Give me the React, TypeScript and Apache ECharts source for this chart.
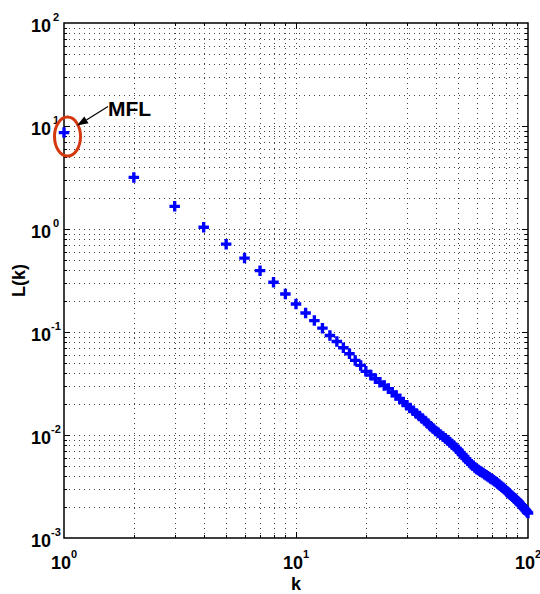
import React, { useEffect, useRef } from "react";
import * as echarts from "echarts";

const FONT = "'Liberation Sans Narrow', 'Arial Narrow', 'Liberation Sans', Arial, sans-serif";

// L(k) for k = 1..100
const lValues = [
  8.63, 3.17, 1.66, 1.04, 0.713, 0.522, 0.394, 0.304, 0.234, 0.187,
  0.153, 0.129, 0.109, 0.0925, 0.0809, 0.0703, 0.0615, 0.053, 0.0474, 0.0415,
  0.0382, 0.0352, 0.0325, 0.0303, 0.0282, 0.026, 0.0242, 0.0224, 0.0209, 0.0195,
  0.0183, 0.0172, 0.0162, 0.0153, 0.0145, 0.01365, 0.0129, 0.01217, 0.01156, 0.01096,
  0.0105, 0.01007, 0.00966, 0.00929, 0.00891, 0.00849, 0.00815, 0.0078, 0.00746, 0.00716,
  0.00679, 0.00647, 0.00618, 0.0059, 0.00562, 0.00541, 0.0052, 0.00503, 0.00484, 0.00468,
  0.00457, 0.00447, 0.00437, 0.00427, 0.00417, 0.00406, 0.00398, 0.00388, 0.00379, 0.00372,
  0.00363, 0.00355, 0.00347, 0.00339, 0.00331, 0.00322, 0.00315, 0.00307, 0.00299, 0.00292,
  0.00284, 0.00277, 0.0027, 0.00263, 0.00257, 0.00251, 0.00244, 0.0024, 0.00234, 0.00229,
  0.00223, 0.00216, 0.00211, 0.00206, 0.002, 0.00195, 0.00189, 0.00185, 0.00179, 0.00175,
];

const xMajor = [1, 10, 100];
const xMinor = [2, 3, 4, 5, 6, 7, 8, 9, 20, 30, 40, 50, 60, 70, 80, 90];
const yMajor = [0.001, 0.01, 0.1, 1, 10, 100];
const yMinor = [
  0.002, 0.003, 0.004, 0.005, 0.006, 0.007, 0.008, 0.009,
  0.02, 0.03, 0.04, 0.05, 0.06, 0.07, 0.08, 0.09,
  0.2, 0.3, 0.4, 0.5, 0.6, 0.7, 0.8, 0.9,
  2, 3, 4, 5, 6, 7, 8, 9,
  20, 30, 40, 50, 60, 70, 80, 90,
];
const xName = "k";
const yName = "L(k)";
const annotationText = "MFL";

const PLUS = "path://M3.4,0H6.6V3.4H10V6.6H6.6V10H3.4V6.6H0V3.4H3.4Z";

export default function App() {
  const ref = useRef<HTMLDivElement>(null);

  useEffect(() => {
    const chart = echarts.init(ref.current!, null, { renderer: "svg" });

    const points = lValues.map((v, i) => [i + 1, v]);
    const gridItems = [
      ...xMajor.map((v) => [v, 1, 0, 0]),
      ...xMinor.map((v) => [v, 1, 1, 0]),
      ...yMajor.map((v) => [1, v, 0, 1]),
      ...yMinor.map((v) => [1, v, 1, 1]),
    ];

    const renderItem = (params: any, api: any) => {
      const cs = params.coordSys;
      const major = api.value(2) === 0;
      const orient = api.value(3);
      const len = major ? 6 : 3;
      const dot = { stroke: "#444", lineWidth: 1, lineDash: [1, 4], fill: null };
      const tick = { stroke: "#000", lineWidth: 1, fill: null };
      const children: any[] = [];
      if (orient === 0) {
        const x = Math.round(api.coord([api.value(0), 1])[0]) + 0.5;
        const y0 = cs.y;
        const y1 = cs.y + cs.height;
        if (x > cs.x + 2 && x < cs.x + cs.width - 2) {
          children.push({ type: "line", shape: { x1: x, y1: y0, x2: x, y2: y1 }, style: dot });
          children.push({ type: "line", shape: { x1: x, y1: y1, x2: x, y2: y1 - len }, style: tick });
          children.push({ type: "line", shape: { x1: x, y1: y0, x2: x, y2: y0 + len }, style: tick });
        }
      } else {
        const y = Math.round(api.coord([1, api.value(1)])[1]) + 0.5;
        const x0 = cs.x;
        const x1 = cs.x + cs.width;
        if (y > cs.y + 2 && y < cs.y + cs.height - 2) {
          children.push({ type: "line", shape: { x1: x0, y1: y, x2: x1, y2: y }, style: dot });
          children.push({ type: "line", shape: { x1: x0, y1: y, x2: x0 + len, y2: y }, style: tick });
          children.push({ type: "line", shape: { x1: x1, y1: y, x2: x1 - len, y2: y }, style: tick });
        }
      }
      return { type: "group", children };
    };

    const labelFmt = (v: number) => `{b|10}{s|${Math.round(Math.log10(v))}}`;
    const rich = {
      b: { fontSize: 18, fontWeight: "bold", fontFamily: FONT, color: "#000", lineHeight: 24, verticalAlign: "bottom" },
      s: { fontSize: 11, fontWeight: "bold", fontFamily: FONT, color: "#000", lineHeight: 8, verticalAlign: "top" },
    };
    const richY = {
      b: rich.b,
      s: { ...rich.s, width: 10, align: "left" },
    };

    chart.setOption({
      animation: false,
      backgroundColor: "#fff",
      grid: {
        left: 64, right: 12, top: 23, bottom: 56,
        show: true, borderColor: "#000", borderWidth: 1.5,
        containLabel: false, outerBoundsMode: "none",
      },
      xAxis: {
        type: "log", logBase: 10, min: 1, max: 100,
        axisLine: { show: false }, axisTick: { show: false }, splitLine: { show: false },
        axisLabel: { formatter: labelFmt, rich, margin: 10 },
        name: xName, nameLocation: "middle", nameGap: 46, nameMoveOverlap: false,
        nameTextStyle: {
          fontSize: 18, fontWeight: "bold", fontFamily: FONT, color: "#000",
          verticalAlign: "middle",
        },
      },
      yAxis: {
        type: "log", logBase: 10, min: 0.001, max: 100,
        axisLine: { show: false }, axisTick: { show: false }, splitLine: { show: false },
        axisLabel: { formatter: labelFmt, rich: richY, margin: 3 },
        name: yName, nameLocation: "middle", nameGap: 45, nameMoveOverlap: false,
        nameTextStyle: { fontSize: 18, fontWeight: "bold", fontFamily: FONT, color: "#000", verticalAlign: "middle" },
      },
      series: [
        { type: "custom", renderItem, data: gridItems, clip: false, silent: true, z: 1 },
        {
          type: "scatter", data: points, symbol: PLUS, symbolSize: 10.5,
          itemStyle: { color: "#0000ff", opacity: 1 }, z: 3, silent: true,
        },
      ],
    });

    const p = chart.convertToPixel({ xAxisIndex: 0, yAxisIndex: 0 }, [1, lValues[0]]) as number[];
    const px = p[0];
    const py = p[1];
    chart.setOption({
      graphic: [
        {
          type: "ellipse", z: 10,
          shape: { cx: px + 3.5, cy: py + 4, rx: 13, ry: 19.5 },
          style: { fill: "none", stroke: "#d4380f", lineWidth: 3 },
        },
        {
          type: "line", z: 10,
          shape: { x1: px + 44, y1: py - 26, x2: px + 22.4, y2: py - 12.7 },
          style: { stroke: "#000", lineWidth: 1.2 },
        },
        {
          type: "polygon", z: 10,
          shape: { points: [[px + 13, py - 7], [px + 24.5, py - 9.3], [px + 20.3, py - 16.1]] },
          style: { fill: "#000" },
        },
        {
          type: "text", z: 10, x: px + 44, y: py - 35,
          style: {
            text: annotationText, fontSize: 21, fontWeight: "bold", fontFamily: FONT,
            fill: "#000", align: "left", verticalAlign: "top",
          },
        },
      ],
    });

    return () => chart.dispose();
  }, []);

  return (
    <div
      ref={ref}
      style={{ position: "absolute", left: 0, top: 0, width: 540, height: 594 }}
    />
  );
}
